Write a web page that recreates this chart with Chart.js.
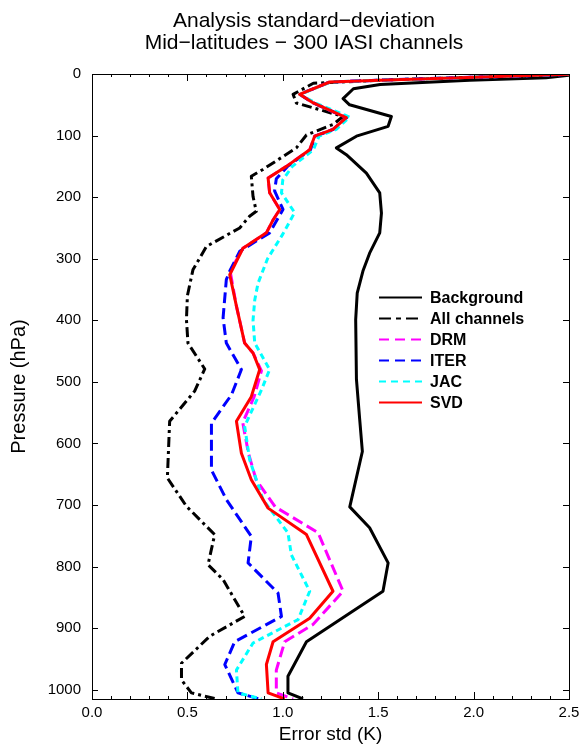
<!DOCTYPE html>
<html>
<head>
<meta charset="utf-8">
<script src="https://cdn.jsdelivr.net/npm/chart.js@4.4.1/dist/chart.umd.min.js"></script>
<style>
html, body { margin: 0; padding: 0; background: #fff; }
</style>
</head>
<body>
<canvas id="chart" width="585" height="749"></canvas>
<script>
'use strict'

// profiles: pressure (hPa) and error std (K)
const bgP   = [2, 6, 10, 17, 24, 40, 50, 69, 85, 101, 120, 131, 161, 193, 226, 258, 291, 320, 356, 399, 496, 561, 613, 703, 737, 794, 840, 922, 978, 1005, 1015]
const bgErr = [2.5, 2.38, 1.98, 1.51, 1.37, 1.316, 1.35, 1.569, 1.552, 1.386, 1.281, 1.333, 1.438, 1.508, 1.517, 1.508, 1.455, 1.42, 1.39, 1.382, 1.386, 1.403, 1.417, 1.351, 1.455, 1.552, 1.525, 1.124, 1.027, 1.027, 1.106]

const allP   = [0.5, 9, 15, 33, 47, 69, 82, 99, 120, 155, 166, 199, 223, 231, 250, 280, 318, 360, 399, 437, 479, 515, 564, 656, 702, 748, 797, 821, 881, 913, 957, 984, 1005, 1015]
const allErr = [2.5, 1.6, 1.16, 1.054, 1.071, 1.316, 1.263, 1.124, 1.071, 0.896, 0.835, 0.844, 0.861, 0.826, 0.774, 0.6, 0.529, 0.5, 0.495, 0.503, 0.591, 0.538, 0.407, 0.395, 0.495, 0.643, 0.608, 0.687, 0.8, 0.617, 0.469, 0.469, 0.521, 0.652]

const drmP   = [0.5, 10, 13, 33, 47, 71, 90, 101, 123, 150, 169, 193, 220, 237, 258, 283, 320, 377, 437, 453, 482, 524, 566, 616, 659, 703, 745, 840, 894, 922, 968, 1005, 1015]
const drmErr = [2.5, 1.51, 1.246, 1.088, 1.16, 1.333, 1.263, 1.167, 1.141, 1.019, 0.923, 0.931, 0.984, 0.949, 0.914, 0.791, 0.724, 0.757, 0.8, 0.844, 0.888, 0.85, 0.79, 0.82, 0.86, 0.96, 1.185, 1.316, 1.158, 1.01, 0.966, 0.966, 1.054]

const iterP   = [0.5, 10, 13, 33, 47, 71, 90, 101, 123, 150, 170, 190, 220, 258, 288, 320, 334, 396, 437, 480, 521, 567, 643, 675, 691, 751, 794, 843, 881, 922, 959, 1005, 1015]
const iterErr = [2.5, 1.51, 1.246, 1.088, 1.16, 1.335, 1.265, 1.17, 1.145, 1.025, 0.966, 0.957, 1.001, 0.931, 0.774, 0.722, 0.704, 0.687, 0.704, 0.783, 0.731, 0.626, 0.626, 0.678, 0.704, 0.835, 0.818, 0.975, 0.993, 0.748, 0.696, 0.765, 0.879]

const jacP   = [0.5, 10, 13, 33, 47, 70, 90, 101, 123, 150, 172, 193, 225, 260, 300, 340, 367, 400, 437, 480, 513, 572, 626, 691, 713, 745, 781, 840, 886, 924, 968, 1005, 1015]
const jacErr = [2.5, 1.52, 1.25, 1.09, 1.17, 1.35, 1.28, 1.19, 1.16, 1.05, 1.0, 0.993, 1.062, 1.0, 0.92, 0.87, 0.853, 0.844, 0.853, 0.931, 0.888, 0.8, 0.826, 0.896, 0.949, 1.027, 1.045, 1.141, 1.08, 0.844, 0.757, 0.765, 0.888]

const svdP   = [0.5, 10, 13, 33, 47, 71, 90, 101, 123, 150, 169, 193, 220, 237, 258, 283, 326, 377, 437, 453, 480, 524, 564, 616, 659, 705, 748, 840, 884, 922, 959, 1005, 1015]
const svdErr = [2.5, 1.51, 1.246, 1.088, 1.16, 1.333, 1.263, 1.167, 1.141, 1.019, 0.923, 0.931, 0.984, 0.949, 0.914, 0.791, 0.722, 0.757, 0.8, 0.844, 0.879, 0.835, 0.757, 0.783, 0.835, 0.923, 1.124, 1.263, 1.141, 0.949, 0.914, 0.923, 1.01]

const xTicks = [0, 0.5, 1.0, 1.5, 2.0, 2.5]
const yTicks = [0, 100, 200, 300, 400, 500, 600, 700, 800, 900, 1000]

const titleLines = ['Analysis standard\u2212deviation', 'Mid\u2212latitudes \u2212 300 IASI channels']

function toPoints(ps, errs) {
	return ps.map((p, i) => ({x: errs[i], y: p}))
}

const fontFamily = '"Liberation Sans", Arial, Helvetica, sans-serif'
Chart.defaults.color = '#000'
Chart.defaults.font.family = fontFamily

// two-line title, centred a bit right of the canvas middle as in the original
const topTitle = {
	id: 'topTitle',
	afterDraw(chart) {
		const ctx = chart.ctx
		ctx.save()
		ctx.font = '21px ' + fontFamily
		ctx.fillStyle = '#000'
		ctx.textAlign = 'center'
		ctx.textBaseline = 'alphabetic'
		titleLines.forEach((t, i) => ctx.fillText(t, 304, 27 + i * 22))
		ctx.restore()
	}
}

// legend drawn inside the plot box, like the original figure
const insideLegend = {
	id: 'insideLegend',
	afterDraw(chart) {
		const ctx = chart.ctx
		const a = chart.chartArea
		const x0 = a.left + 287
		const y0 = a.top + 222.5
		ctx.save()
		ctx.font = 'bold 16px ' + fontFamily
		ctx.textBaseline = 'middle'
		ctx.fillStyle = '#000'
		chart.data.datasets.forEach((ds, i) => {
			const yy = Math.round(y0 + i * 21) + 0.5
			ctx.strokeStyle = ds.borderColor
			ctx.lineWidth = 2
			ctx.setLineDash(ds.legendDash || [])
			ctx.beginPath()
			ctx.moveTo(x0, yy)
			ctx.lineTo(x0 + 43, yy)
			ctx.stroke()
			ctx.fillText(ds.label, x0 + 51, yy + 1)
		})
		ctx.restore()
	}
}

// closed frame with inward ticks on all four sides
const frameTicks = {
	id: 'frameTicks',
	afterDatasetsDraw(chart) {
		const ctx = chart.ctx
		const a = chart.chartArea
		const x = chart.scales.x
		const y = chart.scales.y
		ctx.save()
		ctx.strokeStyle = '#000'
		ctx.lineWidth = 1
		ctx.setLineDash([])
		ctx.strokeRect(a.left + 0.5, a.top + 0.5, a.right - a.left, a.bottom - a.top)
		ctx.beginPath()
		for (let i = 0; i <= 25; i++) {
			const px = Math.round(x.getPixelForValue(i / 10)) + 0.5
			const len = i % 5 === 0 ? 7 : 3
			ctx.moveTo(px, a.bottom)
			ctx.lineTo(px, a.bottom - len)
			ctx.moveTo(px, a.top)
			ctx.lineTo(px, a.top + len)
		}
		yTicks.forEach(p => {
			const py = Math.round(y.getPixelForValue(p)) + 0.5
			ctx.moveTo(a.left, py)
			ctx.lineTo(a.left + 6, py)
			ctx.moveTo(a.right, py)
			ctx.lineTo(a.right - 6, py)
		})
		ctx.stroke()
		ctx.restore()
	}
}

new Chart(document.getElementById('chart'), {
	type: 'scatter',
	data: {
		datasets: [
			{label: 'Background', data: toPoints(bgP, bgErr), borderColor: '#000000', borderDash: [], legendDash: [], order: 5},
			{label: 'All channels', data: toPoints(allP, allErr), borderColor: '#000000', borderDash: [10, 4, 3, 4], legendDash: [12, 5, 5, 5], order: 4},
			{label: 'DRM', data: toPoints(drmP, drmErr), borderColor: '#ff00ff', borderDash: [11, 5], legendDash: [10, 6], order: 3},
			{label: 'ITER', data: toPoints(iterP, iterErr), borderColor: '#0000ff', borderDash: [11, 5], legendDash: [10, 6], order: 2},
			{label: 'JAC', data: toPoints(jacP, jacErr), borderColor: '#00ffff', borderDash: [6, 4], legendDash: [7, 5], order: 1},
			{label: 'SVD', data: toPoints(svdP, svdErr), borderColor: '#ff0000', borderDash: [], legendDash: [], order: 0},
		],
	},
	options: {
		responsive: false,
		animation: false,
		showLine: true,
		elements: {
			point: {radius: 0, hoverRadius: 0},
			line: {borderWidth: 3, tension: 0, fill: false, borderCapStyle: 'butt', borderJoinStyle: 'round'},
		},
		layout: {
			padding: {left: 0, right: 16, top: 74, bottom: 0},
		},
		plugins: {
			legend: {display: false},
			tooltip: {enabled: false},
			title: {display: false},
		},
		scales: {
			x: {
				type: 'linear',
				min: 0,
				max: 2.5,
				grid: {display: false, drawTicks: false},
				border: {display: false},
				afterBuildTicks(scale) {
					scale.ticks = xTicks.map(v => ({value: v}))
				},
				ticks: {
					padding: 5,
					font: {size: 15},
					callback: v => Number(v).toFixed(1),
				},
				title: {
					display: true,
					text: 'Error std (K)',
					font: {size: 19},
					padding: {top: 0, bottom: 3},
				},
				afterFit(scale) {
					scale.height = 50
				},
			},
			y: {
				type: 'linear',
				reverse: true,
				min: 0,
				max: 1015,
				grid: {display: false, drawTicks: false},
				border: {display: false},
				afterBuildTicks(scale) {
					scale.ticks = yTicks.map(v => ({value: v}))
				},
				ticks: {
					padding: 11,
					font: {size: 15},
					callback: v => String(v),
				},
				title: {
					display: true,
					text: 'Pressure (hPa)',
					font: {size: 20},
					padding: {top: 7, bottom: 0},
				},
				afterFit(scale) {
					scale.width = 92
				},
			},
		},
	},
	plugins: [frameTicks, insideLegend, topTitle],
})
</script>
</body>
</html>
